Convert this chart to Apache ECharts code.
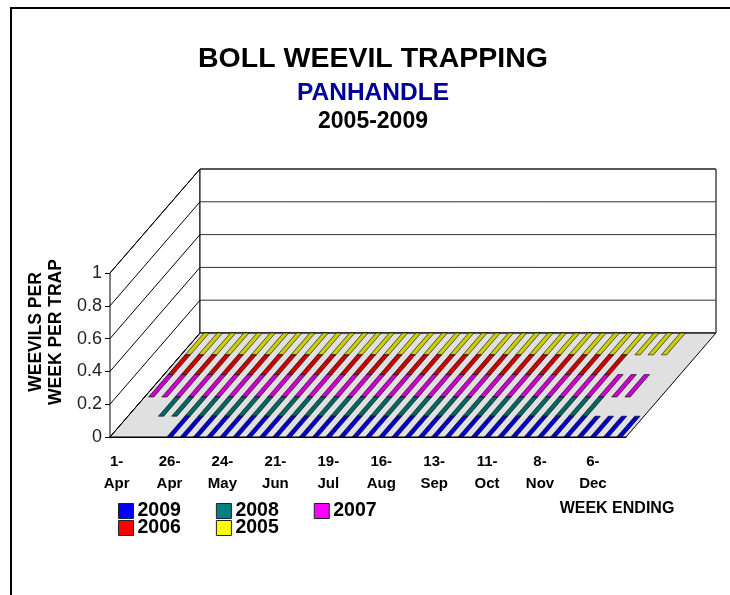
<!DOCTYPE html>
<html>
<head>
<meta charset="utf-8">
<style>
  html, body { margin: 0; padding: 0; background: #fff; }
  #chart-ctn { width: 730px; height: 595px; }
</style>
<script src="https://cdn.jsdelivr.net/npm/echarts@6/dist/echarts.min.js"></script>
</head>
<body>
<div id="chart-ctn"></div>
<script>
var weeks = ['1-Apr','5-Apr','12-Apr','19-Apr','26-Apr','3-May','10-May','17-May','24-May','31-May',
  '7-Jun','14-Jun','21-Jun','28-Jun','5-Jul','12-Jul','19-Jul','26-Jul','2-Aug','9-Aug',
  '16-Aug','23-Aug','30-Aug','6-Sep','13-Sep','20-Sep','27-Sep','4-Oct','11-Oct','18-Oct',
  '25-Oct','1-Nov','8-Nov','15-Nov','22-Nov','29-Nov','6-Dec','13-Dec','20-Dec'];

var y2009 = [null,null,null,null,0,0,0,0,0,0,
  0,0,0,0,0,0,0,0,0,0,
  0,0,0,0,0,0,0,0,0,0,
  0,0,0,0,0,0,0,0,0];
var y2008 = [null,null,0,0,0,0,0,0,0,0,
  0,0,0,0,0,0,0,0,0,0,
  0,0,0,0,0,0,0,0,0,0,
  0,0,0,0,0,null,null,null,null];
var y2007 = [0,0,0,0,0,0,0,0,0,0,
  0,0,0,0,0,0,0,0,0,0,
  0,0,0,0,0,0,0,0,0,0,
  0,0,0,0,0,0,0,null,null];
var y2006 = [0,0,0,0,0,0,0,0,0,0,
  0,0,0,0,0,0,0,0,0,0,
  0,0,0,0,0,0,0,0,0,0,
  0,0,0,0,null,null,null,null,null];
var y2005 = [0,0,0,0,0,0,0,0,0,0,
  0,0,0,0,0,0,0,0,0,0,
  0,0,0,0,0,0,0,0,0,0,
  0,0,0,0,0,0,0,null,null];

var yTicks = [0, 0.2, 0.4, 0.6, 0.8, 1];

// fake 3d: how far the back of the floor is shifted from the front
var depthX = 90, depthY = -104;
var rowEdges = [0, 0.2, 0.385, 0.6, 0.79, 1];
var font = '"Liberation Sans", Arial, sans-serif';

var myChart = echarts.init(document.getElementById('chart-ctn'));

function shift(pt, d) {
  return [pt[0] + depthX * d, pt[1] + depthY * d];
}

function lineShape(a, b, color, width) {
  return {
    type: 'line',
    shape: {x1: a[0], y1: a[1], x2: b[0], y2: b[1]},
    style: {stroke: color || '#000', lineWidth: width || 1}
  };
}

// floor, side wall and back wall
function renderRoom(params, api) {
  var a = api.coord([0, 0]), w = api.size([1, 0])[0];
  var top = api.coord([0, 1]);
  var fl = [a[0] - w / 2, a[1]], fr = [fl[0] + w * weeks.length, a[1]];
  var tl = [fl[0], top[1]];
  var tr = [fr[0], top[1]];
  var style = {fill: '#fff', stroke: '#000', lineWidth: 1};
  return {
    type: 'group',
    children: [
      {type: 'polygon', shape: {points: [fl, tl, shift(tl, 1), shift(fl, 1)]}, style: style},
      {type: 'polygon', shape: {points: [shift(fl, 1), shift(tl, 1), shift(tr, 1), shift(fr, 1)]}, style: style},
      lineShape(shift(tr, 1), shift(fr, 1), '#777', 2),
      {type: 'polygon', shape: {points: [fl, shift(fl, 1), shift(fr, 1), fr]},
        style: {fill: '#e0e0e0', stroke: '#000', lineWidth: 1}}
    ]
  };
}

function renderGrid(params, api) {
  var a = api.coord([0, api.value(0)]), w = api.size([1, 0])[0];
  var l = [a[0] - w / 2, a[1]];
  var back = shift(l, 1);
  return {
    type: 'group',
    children: [
      lineShape(l, back),
      lineShape(back, [back[0] + w * weeks.length, back[1]], '#333')
    ]
  };
}

function barSeries(name, values, color, topColor, row) {
  var data = [];
  values.forEach(function(v, i) {
    if (v !== null) data.push([i, v]);
  });
  return {
    name: name,
    type: 'custom',
    coordinateSystem: 'cartesian2d',
    itemStyle: {color: color},
    data: data,
    encode: {x: 0, y: 1},
    renderItem: function(params, api) {
      var p = api.coord([api.value(0), api.value(1)]);
      var half = api.size([1, 0])[0] * 0.2;
      var d0 = rowEdges[row], d1 = rowEdges[row + 1];
      return {
        type: 'polygon',
        shape: {points: [
          shift([p[0] - half, p[1]], d0),
          shift([p[0] + half, p[1]], d0),
          shift([p[0] + half, p[1]], d1),
          shift([p[0] - half, p[1]], d1)
        ]},
        style: {fill: topColor, stroke: '#000', lineWidth: 0.6}
      };
    }
  };
}

function legendFor(names, top) {
  return {
    data: names,
    left: 118,
    top: top,
    orient: 'horizontal',
    itemWidth: 15,
    itemHeight: 15,
    itemGap: 35,
    padding: 0,
    selectedMode: false,
    icon: 'rect',
    itemStyle: {borderColor: '#222', borderWidth: 1},
    textStyle: {fontFamily: font, fontWeight: 'bold', fontSize: 19.5, color: '#000', padding: [0, 0, 0, -1]}
  };
}

var option = {
  animation: false,
  backgroundColor: '#fff',
  title: [
    {text: 'BOLL WEEVIL TRAPPING', left: 373, top: 45, textAlign: 'center', padding: 0,
      textStyle: {fontFamily: font, fontWeight: 'bold', fontSize: 28.5, color: '#000'}},
    {text: 'PANHANDLE', left: 373, top: 81, textAlign: 'center', padding: 0,
      textStyle: {fontFamily: font, fontWeight: 'bold', fontSize: 24.5, color: '#000099'}},
    {text: '2005-2009', left: 373, top: 110, textAlign: 'center', padding: 0,
      textStyle: {fontFamily: font, fontWeight: 'bold', fontSize: 23, color: '#000'}}
  ],
  legend: [
    legendFor(['2009', '2008', '2007'], 501),
    legendFor(['2006', '2005'], 518)
  ],
  grid: {left: 110, top: 273, width: 516, height: 164},
  xAxis: {
    type: 'category',
    data: weeks,
    axisLine: {lineStyle: {color: '#000'}},
    axisTick: {length: 5, lineStyle: {color: '#000'}},
    axisLabel: {
      interval: 3,
      margin: 14,
      lineHeight: 22,
      color: '#000',
      fontFamily: font,
      fontWeight: 'bold',
      fontSize: 15,
      formatter: function(v) { return v.replace('-', '-\n'); }
    }
  },
  yAxis: {
    type: 'value',
    min: 0,
    max: 1,
    interval: 0.2,
    splitLine: {show: false},
    axisLine: {show: true, lineStyle: {color: '#000'}},
    axisTick: {show: true, length: 5, lineStyle: {color: '#000'}},
    axisLabel: {margin: 8, color: '#222', fontFamily: font, fontSize: 18}
  },
  graphic: [
    {type: 'polyline', shape: {points: [[11, 600], [11, 8], [730, 8]]},
      style: {fill: 'none', stroke: '#000', lineWidth: 2}, z: 100},
    {type: 'text', x: 46, y: 332, rotation: Math.PI / 2, z: 100,
      style: {text: 'WEEVILS PER\nWEEK PER TRAP', fill: '#000', font: 'bold 17.5px ' + font,
        lineHeight: 20, align: 'center', verticalAlign: 'middle'}},
    {type: 'text', x: 617, y: 509, z: 100,
      style: {text: 'WEEK ENDING', fill: '#000', font: 'bold 16px ' + font,
        align: 'center', verticalAlign: 'middle'}}
  ],
  series: [
    {name: 'room', type: 'custom', data: [[0]], renderItem: renderRoom, silent: true},
    {name: 'grid', type: 'custom', data: yTicks.map(function(t) { return [t]; }), renderItem: renderGrid, silent: true},
    barSeries('2005', y2005, '#ffff00', '#cccc00', 4),
    barSeries('2006', y2006, '#ff0000', '#cc0000', 3),
    barSeries('2007', y2007, '#ff00ff', '#cc00cc', 2),
    barSeries('2008', y2008, '#008080', '#006666', 1),
    barSeries('2009', y2009, '#0000ff', '#0000cc', 0)
  ]
};

myChart.setOption(option);
</script>
</body>
</html>
